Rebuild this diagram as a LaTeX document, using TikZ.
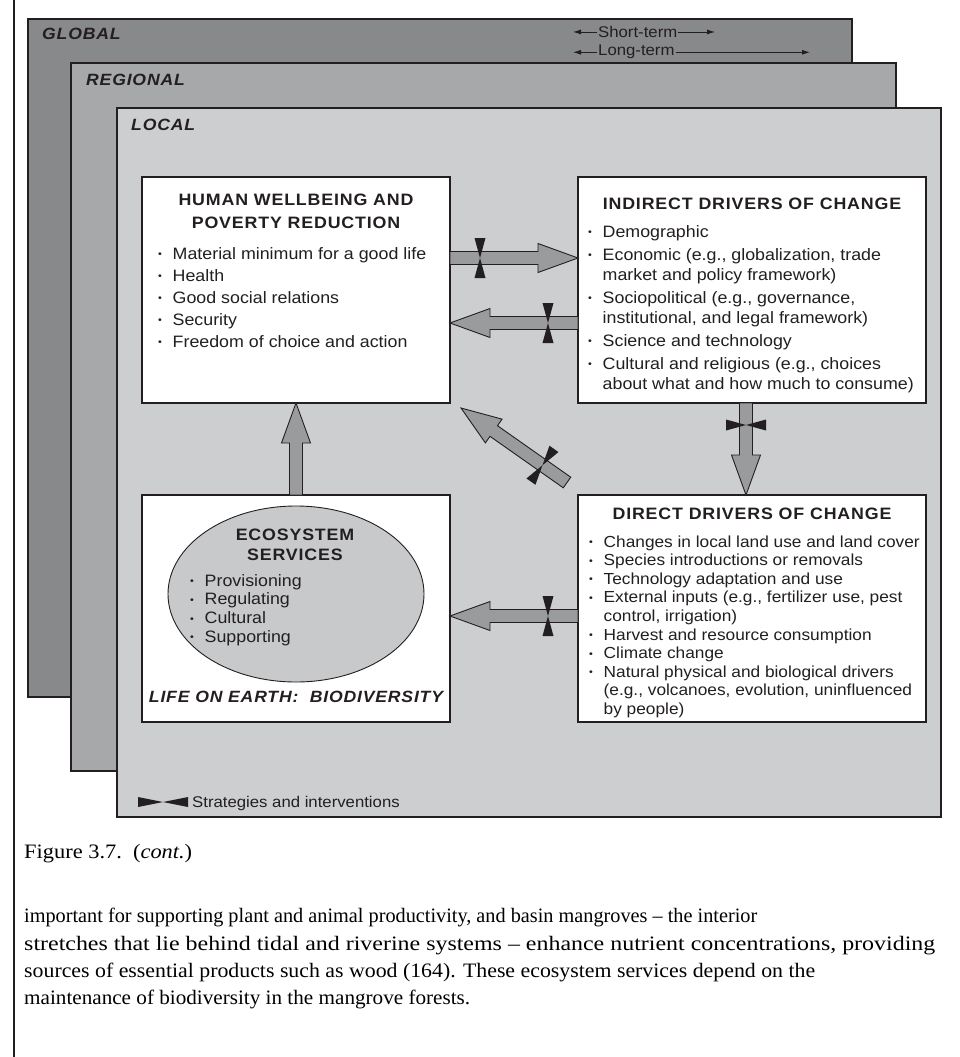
\documentclass[tikz,border=0pt]{standalone}
\usepackage{fontspec}
\usepackage{graphicx}
\setmainfont{Liberation Serif}
\newfontfamily\hv{Liberation Sans}[FakeStretch=1.08]
\newfontfamily\hvt{Liberation Sans}[FakeStretch=1.08,LetterSpace=5]
\usetikzlibrary{calc,arrows.meta,shapes.geometric}

\definecolor{globalgray}{HTML}{88898B}
\definecolor{regiongray}{HTML}{A7A8AA}
\definecolor{localgray}{HTML}{CDCED0}
\definecolor{arrowgray}{HTML}{9A9B9D}
\definecolor{ellgray}{HTML}{C8C9CB}
\definecolor{ink}{HTML}{231F20}

% small list bullet and the matching indent for continuation lines
\newcommand\blt{\makebox[14.5pt][l]{\raisebox{1.3pt}{\fontsize{10}{10}\selectfont\hv •}}}
\newcommand\cnt{\hspace*{14.5pt}}
% one line of running text, widened or narrowed to #1 pt, height unchanged
\newsavebox\linebox
\newcommand\fitline[2]{%
  \sbox\linebox{#2}%
  \pgfmathsetmacro\fitfactor{#1/\the\wd\linebox}%
  \scalebox{\fitfactor}[1]{\usebox\linebox}}

% wide grey arrow from #1 to #2; #3 = distance of the intervention mark from the tail (empty = none)
\newcommand\blockarrow[3]{%
  \path let \p1=(#1), \p2=(#2) in \pgfextra{%
    \pgfmathsetmacro\tmpang{atan2(\y2-\y1,\x2-\x1)}%
    \pgfmathsetmacro\tmplen{veclen(\x2-\x1,\y2-\y1)}%
    \xdef\baang{\tmpang}\xdef\balen{\tmplen}%
    \xdef\bax{\x1}\xdef\bay{\y1}};%
  \begin{scope}[shift={(\bax,\bay)},rotate=\baang]
    \draw[arrowbody] (0,-6.5) -- ({\balen-40},-6.5) -- ({\balen-40},-14.5) -- (\balen,0)
      -- ({\balen-40},14.5) -- ({\balen-40},6.5) -- (0,6.5) -- cycle;
    \if\relax\detokenize{#3}\relax\else
      \fill[bowtie] ({#3-5.5},-20) -- ({#3+5.5},-20) -- (#3,0) -- cycle
                    ({#3-5.5},20) -- ({#3+5.5},20) -- (#3,0) -- cycle;
    \fi
  \end{scope}}

\begin{document}
\begin{tikzpicture}[x=1pt,y=-1pt,
  frame/.style={draw=ink,line width=2.6pt},
  box/.style={draw=ink,line width=2.6pt,fill=white,inner sep=0pt,outer sep=0pt},
  arrowbody/.style={draw=ink,line width=0.9pt,fill=arrowgray,line join=miter},
  bowtie/.style={fill=ink},
  level/.style={inner sep=0pt,anchor=base west,text=ink,font=\hvt\bfseries\itshape\fontsize{16.3}{19}\selectfont},
  title/.style={inner sep=0pt,anchor=base,text=ink,font=\hvt\bfseries\fontsize{16.5}{19}\selectfont},
  items/.style={inner sep=0pt,anchor=base west,text=ink,font=\hv\fontsize{16.5}{19}\selectfont},
  small/.style={inner sep=1pt,anchor=base west,text=ink,font=\hv\fontsize{15.5}{18}\selectfont},
  termarrow/.style={draw=ink,line width=0.8pt,-{Latex[length=8pt,width=5pt]}},
  body/.style={inner sep=0pt,anchor=base west,text=black,font=\fontsize{20.5}{27}\selectfont}]

\useasboundingbox (0,0) rectangle (959,1057);
\fill[white] (0,0) rectangle (959,1057);

% page rule
\draw[ink,line width=2pt] (14,0) -- (14,1057);

% nested scales
\draw[frame,fill=globalgray] (28,19) rectangle (852,697);
\draw[frame,fill=regiongray] (71,63) rectangle (896,771);
\draw[frame,fill=localgray] (117,108) rectangle (941,817);
\node[level] (lglobal) at (42,40) {GLOBAL};
\node[level] (lregion) at (86,85) {REGIONAL};
\node[level] (llocal) at (131,130) {LOCAL};

% time horizons
\node[small] (st) at (597,37.5) {Short-term};
\node[small] (lt) at (597,56) {Long-term};
\coordinate (stL) at (573,0);
\coordinate (stR) at (715,0);
\coordinate (ltR) at (810,0);
\draw[termarrow] (st.west) -- (st.west -| stL);
\draw[termarrow] (st.east) -- (st.east -| stR);
\draw[termarrow] (lt.west) -- (lt.west -| stL);
\draw[termarrow] (lt.east) -- (lt.east -| ltR);

% the four boxes
\node[box,minimum width=308,minimum height=226] (hw) at (296,290) {};
\node[box,minimum width=348,minimum height=226] (ind) at (752,290) {};
\node[box,minimum width=308,minimum height=227] (eco) at (296,608.5) {};
\node[box,minimum width=348,minimum height=227] (dir) at (752,608.5) {};

% human wellbeing
\node[title] (hwt1) at (296,205) {HUMAN WELLBEING AND};
\node[title] (hwt2) at (296,228) {POVERTY REDUCTION};
\node[items] (hwi) at (158,259) {\fontsize{16.5}{22}\selectfont
  \begin{tabular}[t]{@{}l@{}}
  \blt Material minimum for a good life\\
  \blt Health\\
  \blt Good social relations\\
  \blt Security\\
  \blt Freedom of choice and action
  \end{tabular}};

% indirect drivers
\node[title] (indt) at (752,209) {INDIRECT DRIVERS OF CHANGE};
\node[items] (indi) at (588,237) {\fontsize{16.5}{20}\selectfont
  \begin{tabular}[t]{@{}l@{}}
  \blt Demographic\\[3pt]
  \blt Economic (e.g., globalization, trade\\
  \cnt market and policy framework)\\[3pt]
  \blt Sociopolitical (e.g., governance,\\
  \cnt institutional, and legal framework)\\[3pt]
  \blt Science and technology\\[3pt]
  \blt Cultural and religious (e.g., choices\\
  \cnt about what and how much to consume)
  \end{tabular}};

% direct drivers
\node[title] (dirt) at (752,519) {DIRECT DRIVERS OF CHANGE};
\node[items] (diri) at (589,547) {\fontsize{16}{18.6}\selectfont
  \begin{tabular}[t]{@{}l@{}}
  \blt Changes in local land use and land cover\\
  \blt Species introductions or removals\\
  \blt Technology adaptation and use\\
  \blt External inputs (e.g., fertilizer use, pest\\
  \cnt control, irrigation)\\
  \blt Harvest and resource consumption\\
  \blt Climate change\\
  \blt Natural physical and biological drivers\\
  \cnt (e.g., volcanoes, evolution, uninfluenced\\
  \cnt by people)
  \end{tabular}};

% ecosystem services
\node[ellipse,draw=ink,line width=0.9pt,fill=ellgray,minimum width=256,minimum height=176,inner sep=0pt] (ell) at (296,594) {};
\node[title] (ellt1) at (295,540) {ECOSYSTEM};
\node[title] (ellt2) at (295,560) {SERVICES};
\node[items] (elli) at (190,586) {\fontsize{16.5}{18.7}\selectfont
  \begin{tabular}[t]{@{}l@{}}
  \blt Provisioning\\
  \blt Regulating\\
  \blt Cultural\\
  \blt Supporting
  \end{tabular}};
\node[title,font=\hvt\bfseries\itshape\fontsize{16.3}{19}\selectfont] (life) at (296,702) {LIFE ON EARTH:\ \ BIODIVERSITY};

% links between the boxes
\blockarrow{[shift={(0,-32)}]hw.east}{[shift={(0,-32)}]ind.west}{30}
\blockarrow{[shift={(0,33)}]ind.west}{[shift={(0,33)}]hw.east}{30}
\blockarrow{[shift={(-6,0)}]ind.south}{[shift={(-6,0)}]dir.north}{22}
\blockarrow{eco.north}{hw.south}{}
\blockarrow{[shift={(-11,-12.5)}]dir.north west}{[shift={(11,5)}]hw.south east}{30}
\blockarrow{[shift={(0,7.5)}]dir.west}{[shift={(0,7.5)}]eco.east}{30}

% legend
\coordinate (legc) at (163,802);
\fill[bowtie] ([shift={(-25,-5)}]legc) -- ([shift={(-25,5)}]legc) -- (legc) -- cycle;
\fill[bowtie] ([shift={(25,-5)}]legc) -- ([shift={(25,5)}]legc) -- (legc) -- cycle;
\node[small,inner sep=0pt] (legt) at (192,807) {Strategies and interventions};

% caption and running text
\node[body] (cap) at (24,858) {\fitline{168}{Figure 3.7.\ \ (\textit{cont.})}};
\node[body] (p1) at (24,922) {\fitline{733}{important for supporting plant and animal productivity, and basin mangroves -- the interior}};
\node[body] (p2) at (24,950) {\fitline{911}{stretches that lie behind tidal and riverine systems -- enhance nutrient concentrations, providing}};
\node[body] (p3) at (24,977) {\fitline{791}{sources of essential products such as wood (164). These ecosystem services depend on the}};
\node[body] (p4) at (24,1004) {\fitline{446}{maintenance of biodiversity in the mangrove forests.}};
\end{tikzpicture}
\end{document}
